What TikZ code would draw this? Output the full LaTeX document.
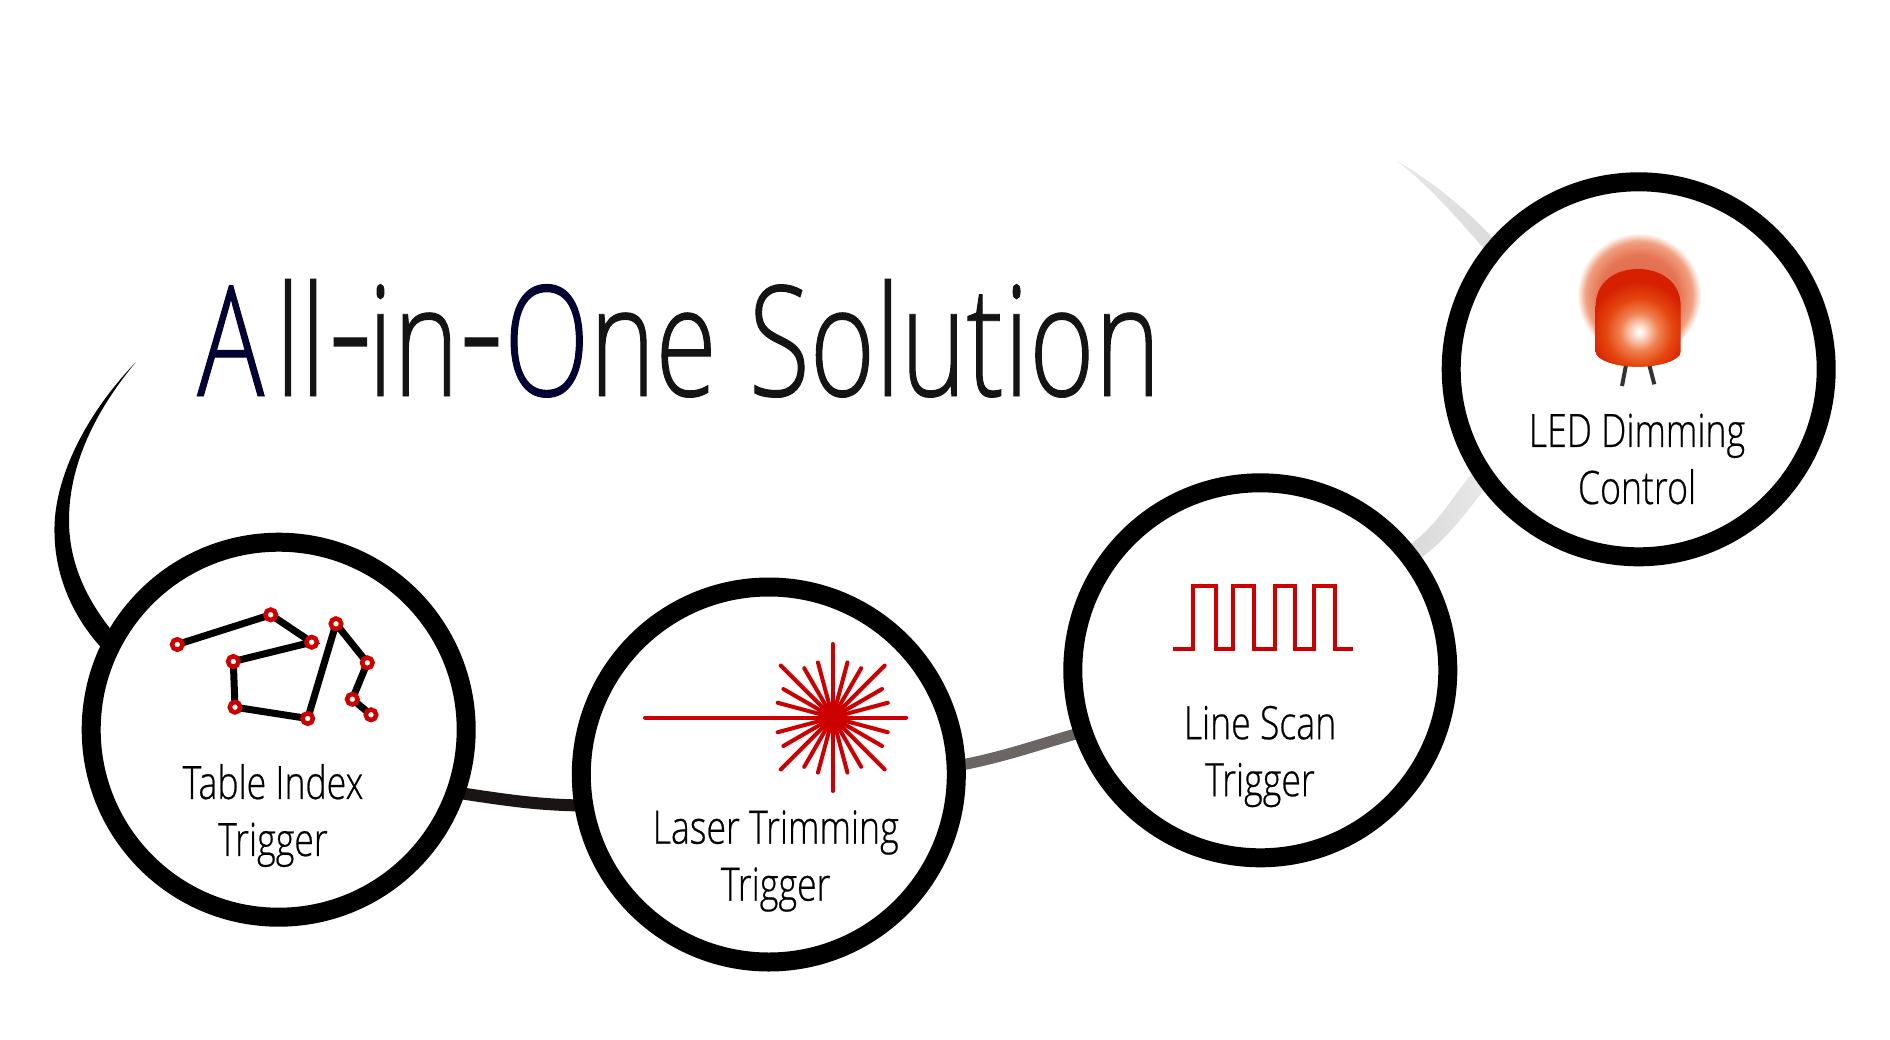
\documentclass[tikz,border=0pt]{standalone}
\usepackage{fontspec}
\usepackage{graphicx}
\usetikzlibrary{backgrounds,calc}
\newfontfamily\lightfont[FakeStretch=0.775,FakeBold=0.5]{Open Sans Light}
\newfontfamily\titlefont[FakeStretch=0.726,FakeBold=0.6]{Open Sans Light}
\definecolor{ringblack}{HTML}{000000}
\definecolor{iconred}{HTML}{CC0000}
\definecolor{titlenavy}{HTML}{000033}
\definecolor{titleink}{HTML}{141414}
\definecolor{linkA}{HTML}{1A1414}
\definecolor{linkB}{HTML}{6B6563}
\definecolor{haloA}{HTML}{DF6A50}
\definecolor{haloB}{HTML}{E47454}
\definecolor{haloC}{HTML}{F0A080}
\definecolor{coreA}{HTML}{FFFFFF}
\definecolor{coreB}{HTML}{FDE8DC}
\definecolor{coreC}{HTML}{F08050}
\definecolor{coreD}{HTML}{E4450E}
\definecolor{coreE}{HTML}{D62000}
\pgfdeclareradialshading{ledhalo}{\pgfpointorigin}{color(0bp)=(haloA); color(16bp)=(haloB); color(21.5bp)=(haloC); color(25bp)=(white); color(50bp)=(white)}
\pgfdeclareradialshading{ledcore}{\pgfpointorigin}{color(0bp)=(coreA); color(2bp)=(coreB); color(8bp)=(coreC); color(14bp)=(coreD); color(21bp)=(coreE); color(50bp)=(coreE)}
\newcommand{\titlehyphen}{\scalebox{1.25}[1.3]{-}}
\tikzset{
  x=1pt,y=-1pt,
  ring/.style={circle,draw=ringblack,fill=white,line width=19pt,minimum size=375pt,inner sep=0pt},
  label/.style={font=\lightfont\fontsize{46}{57}\selectfont,align=center,text=black,anchor=center,inner sep=0pt},
  linkstroke/.style={line cap=rect},
  constline/.style={black,line width=7pt},
  star/.style={circle,draw=iconred,fill=white,line width=4.5pt,minimum size=10.5pt,inner sep=0pt},
  ray/.style={iconred,line width=4pt,line cap=round},
  wave/.style={iconred,line width=4pt,miter limit=10},
}
\begin{document}
\begin{tikzpicture}
\useasboundingbox (0,0) rectangle (1890,1039);

% rings
\node[ring] (c1) at (278.7,729.7) {};
\node[ring] (c3) at (768.8,774.5) {};
\node[ring] (c4) at (1260.3,670.3) {};
\node[ring] (c2) at (1638.7,369.3) {};

% connectors behind the rings
\begin{scope}[on background layer]
\fill[white] (0,0) rectangle (1890,1039);
\coordinate (swtip) at (136,362);
\coordinate (toptip) at (1397,161);
\fill[black] (swtip) .. controls (85,415) and (53,480) .. (54.5,533)
   .. controls (55,575) and (72,615) .. (c1.155)
   -- (c1.149)
   .. controls (88,600) and (69,565) .. (69,520)
   .. controls (69,460) and (100,405) .. (swtip) -- cycle;
\draw[linkstroke,linkA,line width=12pt] (c1.-19) .. controls +(40,6) and +(-40,-1) .. (c3.189);
\draw[linkstroke,linkB,line width=11pt] (c3.3) .. controls +(40,-8) and +(-35,10) .. (c4.199);
\shade[left color=black!15,right color=black!9]
   (c4.40) .. controls +(25,-18) and +(-20,25) .. (c2.212)
   -- (c2.218) .. controls +(-20,25) and +(25,-18) .. (c4.35) -- cycle;
\shade[left color=black!9,right color=black!14]
   (toptip) .. controls (1430,180) and (1465,208) .. (c2.138)
   -- (c2.142) .. controls (1462,224) and (1430,186) .. (toptip) -- cycle;
\end{scope}

% title
\node[anchor=base west,inner sep=0pt,text=titleink,font=\titlefont\fontsize{154}{154}\selectfont] (title) at (197,396)
  {\textcolor{titlenavy}{A}\kern11pt ll\kern2pt\titlehyphen\kern-5pt in\titlehyphen\textcolor{titlenavy}{O}ne\kern3pt{} Solution};

% labels
\node[label] (l1) at (273,815.5) {Table Index\\Trigger};
\node[label] (l3) at (775.7,861) {Laser Trimming\\Trigger};
\node[label] (l4) at (1260,756.5) {Line Scan\\Trigger};
\node[label] (l2) at (1637,459) {LED Dimming\\Control};

% constellation icon
\coordinate (a) at (177.3,644.5);
\coordinate (b) at (270.7,614.8);
\coordinate (cc) at (311.7,642.2);
\coordinate (d) at (233.3,661.5);
\coordinate (e) at (235,707.2);
\coordinate (f) at (307.7,718.5);
\coordinate (g) at (336,623.8);
\coordinate (h) at (367.3,662.8);
\coordinate (i) at (352.3,699.2);
\coordinate (j) at (371,714.8);
\draw[constline] (a) -- (b) -- (cc) -- (d) -- (e) -- (f) -- (g) -- (h) -- (i) -- (j);
\foreach \p in {a,b,cc,d,e,f,g,h,i,j} \node[star] (s\p) at (\p) {};

% laser icon
\coordinate (lz) at (832.7,717.5);
\draw[ray] (645,717.5) -- (lz);
\foreach \ang in {0,45,90,135,225,270,315} \draw[ray] (lz) -- ++({73.5*cos(\ang)},{73.5*sin(\ang)});
\foreach \ang in {15,30,60,75,105,120,150,165,195,210,240,255,285,300,330,345} \draw[ray] (lz) -- ++({57*cos(\ang)},{57*sin(\ang)});
\fill[iconred] (lz) circle (9);

% square wave icon
\draw[wave] (1172.7,649.3) -| (1193.3,585.5) -| (1215.7,649.3) -| (1233.3,585.5) -| (1254.3,649.3) -| (1275,585.5) -| (1295,649.3) -| (1314,585.5) -| (1335,649.3) -- (1353.3,649.3);

% LED icon
\shade[shading=ledhalo] (1639,295) circle (62);
\draw[black!80,line width=4pt] (1626,365) -- (1622,386);
\draw[black!80,line width=4pt] (1649.3,365) -- (1654.3,384.3);
\begin{scope}
\clip (1595.7,306.7) .. controls (1595.7,282) and (1615,269) .. (1638,269) .. controls (1661,269) and (1680.7,282) .. (1680.7,306.7) -- (1680.7,351.7) .. controls (1680.7,360) and (1660,366.7) .. (1638,366.7) .. controls (1616,366.7) and (1595.7,360) .. (1595.7,351.7) -- cycle;
\fill[coreE] (1590,260) rectangle (1690,370);
\shade[shading=ledcore] (1639,331.7) circle (60);
\end{scope}
\end{tikzpicture}
\end{document}
